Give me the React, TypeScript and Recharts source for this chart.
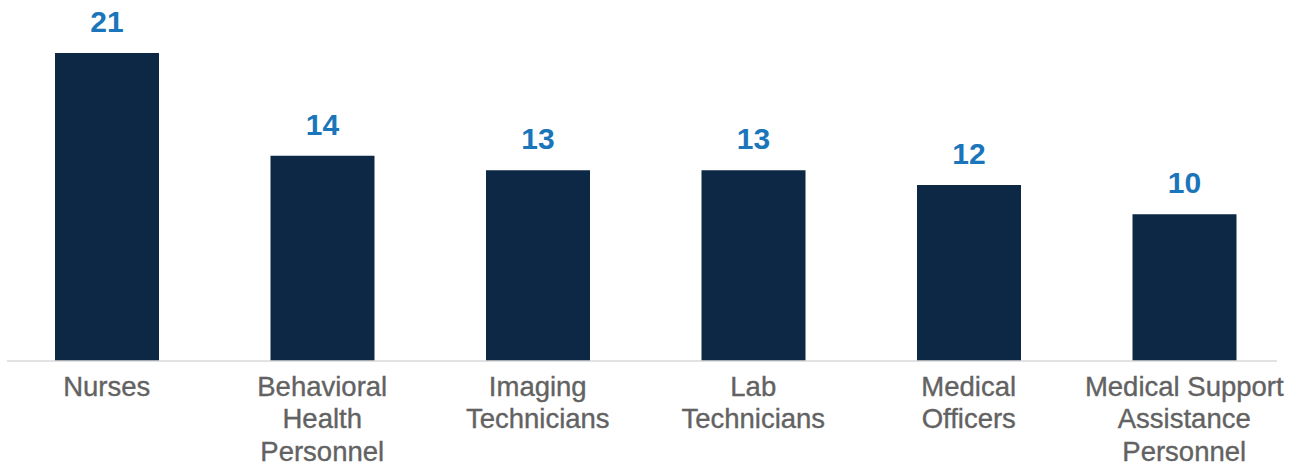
import { BarChart, Bar, XAxis, YAxis, LabelList, ReferenceLine } from "recharts";

const categories = [
  "Nurses",
  "Behavioral\nHealth\nPersonnel",
  "Imaging\nTechnicians",
  "Lab\nTechnicians",
  "Medical\nOfficers",
  "Medical Support\nAssistance\nPersonnel",
];
const counts = [21, 14, 13, 13, 12, 10];

const data = categories.map((name, i) => ({ name, count: counts[i] }));

const FONT = "'Liberation Sans', Arial, sans-serif";

function CategoryTick(props: any) {
  const { x, y, payload } = props;
  const lines = String(payload.value).split("\n");
  return (
    <text
      x={x}
      y={y}
      textAnchor="middle"
      fill="#626262"
      stroke="#626262"
      strokeWidth={0.35}
      fontSize={27.5}
      fontFamily={FONT}
    >
      {lines.map((line, i) => (
        <tspan key={i} x={x} dy={i === 0 ? 26.5 : 32.8}>
          {line}
        </tspan>
      ))}
    </text>
  );
}

// baseline is a bit shorter than the plot area on both ends
function Baseline(props: any) {
  const { x1, x2, y1 } = props;
  return <line x1={x1 + 8} x2={x2 - 15} y1={y1} y2={y1} stroke="#d9d9d9" strokeWidth={1.5} />;
}

export default function App() {
  return (
    <div style={{ position: "absolute", left: -1, top: 0 }}>
      <BarChart
        width={1293}
        height={465}
        data={data}
        margin={{ top: 53, right: 0, bottom: 0, left: 0 }}
      >
        <XAxis
          dataKey="name"
          axisLine={false}
          tickLine={false}
          interval={0}
          height={104}
          tick={<CategoryTick />}
        />
        <YAxis hide domain={[0, 21]} />
        <ReferenceLine y={0} shape={<Baseline />} />
        <Bar dataKey="count" fill="#0c2844" barSize={104} isAnimationActive={false}>
          <LabelList
            dataKey="count"
            position="top"
            offset={21}
            fill="#1a75bb"
            fontSize={30}
            fontWeight="bold"
            fontFamily={FONT}
          />
        </Bar>
      </BarChart>
    </div>
  );
}
